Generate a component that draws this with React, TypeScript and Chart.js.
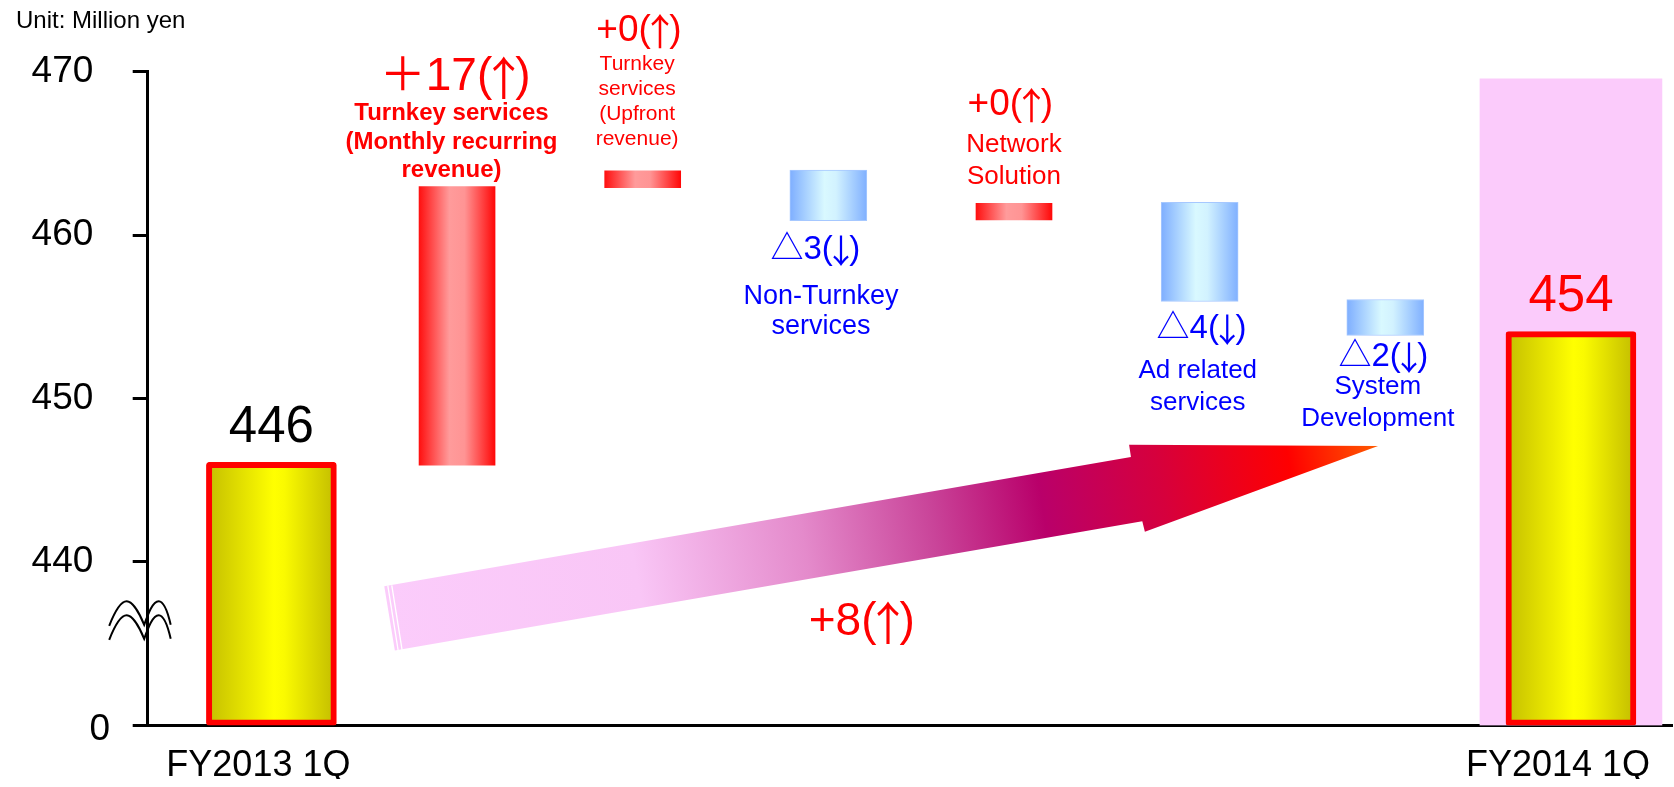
import React, { useEffect, useRef } from 'react';
import { Chart, registerables } from 'chart.js';

Chart.register(...registerables);

const FONT = '"Liberation Sans", Arial, "Noto Sans CJK JP", sans-serif';
const CJK = '"Noto Sans CJK JP", "Noto Sans CJK SC", sans-serif';

// ---------------- data ----------------
const categoryNames = [
  'FY2013 1Q',
  'Turnkey services (Monthly recurring revenue)',
  'Turnkey services (Upfront revenue)',
  'Non-Turnkey services',
  'Network Solution',
  'Ad related services',
  'System Development',
  'FY2014 1Q',
];
const axisLabels = ['FY2013 1Q', 'FY2014 1Q'];
const axisLabelPositions = [0, 7];

const totalPositions = [0, 7];
const totalValues = [446.1, 454.1];
const totalLabels = ['446', '454'];
const totalLabelColors = ['#000000', '#FF0000'];
const totalLabelY = [447.37, 455.35];

const increasePositions = [1, 2, 4];
const increaseFrom = [445.92, 462.91, 460.93];
const increaseTo = [462.97, 463.94, 461.94];

const decreasePositions = [3, 5, 6];
const decreaseFrom = [463.98, 462.0, 456.06];
const decreaseTo = [460.89, 455.94, 453.86];

const highlightPositions = [7];
const highlightTop = [469.56];

const yTickValues = [430, 440, 450, 460, 470];
const yTickLabels = ['0', '440', '450', '460', '470'];

const changeLabels = ['＋17(↑)', '+0(↑)', '△3(↓)', '+0(↑)', '△4(↓)', '△2(↓)'];
const changeLabelX = [0.99, 1.98, 2.93, 3.98, 5.01, 5.99];
const changeLabelY = [468.89, 471.85, 458.51, 467.32, 453.68, 452.01];
const changeNames = [
  ['Turnkey services', '(Monthly recurring', 'revenue)'],
  ['Turnkey', 'services', '(Upfront', 'revenue)'],
  ['Non-Turnkey', 'services'],
  ['Network', 'Solution'],
  ['Ad related', 'services'],
  ['System', 'Development'],
];
const changeNameX = [0.97, 1.97, 2.96, 4.0, 4.99, 5.96];
const changeNameY = [467.04, 470.1, 455.79, 465.08, 451.26, 450.25];
const changeIsUp = [true, true, false, true, false, false];

const netChangeLabel = '+8(↑)';
const netChangeX = [3.18];
const netChangeY = [435.54];
const netArrowX = [0.608, 4.63, 4.62, 5.961, 4.705, 4.691, 0.665];
const netArrowY = [438.51, 446.42, 447.17, 447.09, 441.85, 442.49, 434.58];
const axisBreakValue = [436.4];
const unitLabel = 'Unit: Million yen';

// ---------------- styles ----------------
const X_MIN = -0.6663;
const X_MAX = 7.549;
const Y_MIN = 430;
const Y_MAX = 470;
const RED = '#FF0000';
const BLUE = '#0000FF';
const changeLabelSizes = [46, 37, 33, 37, 33, 33];
const changeNameStyles = [
  { size: 24, weight: 'bold', lh: 28.7 },
  { size: 21, weight: 'normal', lh: 25 },
  { size: 27, weight: 'normal', lh: 30 },
  { size: 26, weight: 'normal', lh: 32 },
  { size: 26, weight: 'normal', lh: 31.6 },
  { size: 26, weight: 'normal', lh: 31.7 },
];
const YELLOW_STOPS: [number, string][] = [[0, '#C4BE00'], [0.52, '#FFFF00'], [0.6, '#FAFA00'], [1, '#C2BC00']];
const RED_STOPS: [number, string][] = [[0, '#FF1010'], [0.4, '#FF9B9B'], [0.6, '#FF9494'], [1, '#FF0808']];
const BLUE_STOPS: [number, string][] = [[0, '#7EAEFF'], [0.45, '#D9F9FF'], [0.6, '#D2F2FF'], [1, '#80B0FF']];
const ARROW_STOPS: [number, string][] = [
  [0, '#FBCCFB'], [0.25, '#F9C6F6'], [0.42, '#E48ACB'], [0.55, '#C94499'],
  [0.66, '#B9006A'], [0.78, '#D6003D'], [0.91, '#FF0000'], [1, '#FF5A00'],
];

function hGrad(c: any, width: number, stops: [number, string][]) {
  const chart = c.chart;
  const xs = chart.scales && chart.scales.x;
  if (!chart.chartArea || !xs || !c.raw) return stops[1][1];
  const cx = xs.getPixelForValue(c.raw.x);
  const g = chart.ctx.createLinearGradient(cx - width / 2, 0, cx + width / 2, 0);
  stops.forEach(([o, col]) => g.addColorStop(o, col));
  return g;
}

function text(ctx: CanvasRenderingContext2D, s: string, x: number, y: number, size: number, color: string, weight = 'normal', align: CanvasTextAlign = 'center', baseline: CanvasTextBaseline = 'alphabetic') {
  ctx.font = `${weight} ${size}px ${FONT}`;
  ctx.fillStyle = color;
  ctx.textAlign = align;
  ctx.textBaseline = baseline;
  ctx.fillText(s, x, y);
}

// text with tall CJK-style arrows, centred on cx
function richText(ctx: CanvasRenderingContext2D, s: string, cx: number, y: number, size: number, color: string) {
  const segs = Array.from(s).map((ch) => {
    const arrow = ch === '↑' || ch === '↓';
    return { ch, arrow, font: arrow ? `normal ${size}px ${CJK}` : `normal ${size}px ${FONT}`, w: 0 };
  });
  segs.forEach((sg) => {
    ctx.font = sg.font;
    sg.w = sg.arrow ? size * 0.5 : ctx.measureText(sg.ch).width;
  });
  const total = segs.reduce((a, sg) => a + sg.w, 0);
  let x = cx - total / 2;
  ctx.fillStyle = color;
  ctx.textBaseline = 'alphabetic';
  segs.forEach((sg) => {
    ctx.font = sg.font;
    if (sg.arrow) {
      ctx.textAlign = 'center';
      ctx.fillText(sg.ch, x + sg.w / 2, y + size * 0.12);
    } else {
      ctx.textAlign = 'left';
      ctx.fillText(sg.ch, x, y);
    }
    x += sg.w;
  });
}

const decorPlugin = {
  id: 'decor',
  afterDatasetsDraw(chart: any) {
    const { ctx, scales } = chart;
    const xs = scales.x, ys = scales.y;
    const pts = netArrowX.map((v, i) => ({ x: xs.getPixelForValue(v), y: ys.getPixelForValue(netArrowY[i]) }));
    ctx.save();
    const tail = { x: (pts[0].x + pts[6].x) / 2, y: (pts[0].y + pts[6].y) / 2 };
    const tip = pts[3];
    const g = ctx.createLinearGradient(tail.x, tail.y, tip.x, tip.y);
    ARROW_STOPS.forEach(([o, col]) => g.addColorStop(o, col));
    ctx.beginPath();
    ctx.moveTo(pts[0].x, pts[0].y);
    for (let i = 1; i < pts.length; i++) ctx.lineTo(pts[i].x, pts[i].y);
    ctx.closePath();
    ctx.fillStyle = g;
    ctx.fill();
    ctx.strokeStyle = '#FFFFFF';
    ctx.lineWidth = 1.3;
    [3.5, 7.5].forEach((d) => {
      ctx.beginPath();
      ctx.moveTo(pts[0].x + d, pts[0].y - 1);
      ctx.lineTo(pts[6].x + d, pts[6].y + 1);
      ctx.stroke();
    });
    ctx.restore();
  },
  afterDraw(chart: any) {
    const { ctx, scales, chartArea } = chart;
    const xs = scales.x, ys = scales.y;
    ctx.save();
    text(ctx, unitLabel, 16, 28, 24, '#000000', 'normal', 'left');
    text(ctx, yTickLabels[0], chartArea.left - 37.7, ys.getPixelForValue(yTickValues[0]) + 4, 37, '#000000', 'normal', 'right', 'middle');
    // axis break mark
    const bx = chartArea.left;
    const by = ys.getPixelForValue(axisBreakValue[0]);
    ctx.strokeStyle = '#000000';
    ctx.lineWidth = 2;
    [-7, 7].forEach((off) => {
      const y0 = by + off;
      ctx.beginPath();
      ctx.moveTo(bx - 38.5, y0 + 12);
      ctx.bezierCurveTo(bx - 33, y0 - 2, bx - 27, y0 - 12.5, bx - 21, y0 - 12.5);
      ctx.bezierCurveTo(bx - 15, y0 - 12.5, bx - 8, y0 + 0, bx - 3.5, y0 + 11);
      ctx.bezierCurveTo(bx + 0.5, y0 + 0, bx + 5, y0 - 12.5, bx + 11, y0 - 12.5);
      ctx.bezierCurveTo(bx + 16, y0 - 12.5, bx + 20, y0 - 2, bx + 23, y0 + 11);
      ctx.stroke();
    });
    totalPositions.forEach((p, i) => {
      text(ctx, totalLabels[i], xs.getPixelForValue(p), ys.getPixelForValue(totalLabelY[i]), 51, totalLabelColors[i]);
    });
    changeLabels.forEach((s, i) => {
      const col = changeIsUp[i] ? RED : BLUE;
      richText(ctx, s, xs.getPixelForValue(changeLabelX[i]), ys.getPixelForValue(changeLabelY[i]), changeLabelSizes[i], col);
      const st = changeNameStyles[i];
      const nx = xs.getPixelForValue(changeNameX[i]);
      const ny = ys.getPixelForValue(changeNameY[i]);
      changeNames[i].forEach((line, j) => {
        text(ctx, line, nx, ny + j * st.lh, st.size, col, st.weight);
      });
    });
    richText(ctx, netChangeLabel, xs.getPixelForValue(netChangeX[0]), ys.getPixelForValue(netChangeY[0]), 46, RED);
    ctx.restore();
  },
};

export default function App() {
  const ref = useRef<HTMLCanvasElement | null>(null);
  useEffect(() => {
    if (!ref.current) return;
    Chart.defaults.font.family = FONT;
    const chart = new Chart(ref.current, {
      type: 'bar',
      data: {
        labels: categoryNames,
        datasets: [
          {
            label: 'highlight',
            data: highlightPositions.map((p, i) => ({ x: p, y: [Y_MIN, highlightTop[i]] })) as any,
            backgroundColor: '#FBCBFB',
            barThickness: 182,
            grouped: false,
            order: 5,
          },
          {
            label: 'total',
            data: totalPositions.map((p, i) => ({ x: p, y: [Y_MIN, totalValues[i]] })) as any,
            backgroundColor: (c: any) => hGrad(c, 130, YELLOW_STOPS),
            borderColor: RED,
            borderWidth: 6,
            borderSkipped: false,
            borderRadius: 3,
            barThickness: 130,
            grouped: false,
            order: 1,
          },
          {
            label: 'increase',
            data: increasePositions.map((p, i) => ({ x: p, y: [increaseFrom[i], increaseTo[i]] })) as any,
            backgroundColor: (c: any) => hGrad(c, 76, RED_STOPS),
            borderWidth: 0,
            barThickness: 76,
            grouped: false,
            order: 1,
          },
          {
            label: 'decrease',
            data: decreasePositions.map((p, i) => ({ x: p, y: [decreaseTo[i], decreaseFrom[i]] })) as any,
            backgroundColor: (c: any) => hGrad(c, 77, BLUE_STOPS),
            borderColor: '#A6C8FF',
            borderWidth: 1,
            borderSkipped: false,
            barThickness: 77,
            grouped: false,
            order: 1,
          },
        ],
      },
      options: {
        animation: false,
        responsive: false,
        events: [],
        layout: { padding: { top: 71.7, left: 0, right: 0, bottom: 0 } },
        plugins: { legend: { display: false }, tooltip: { enabled: false } },
        scales: {
          x: {
            type: 'linear',
            min: X_MIN,
            max: X_MAX,
            offset: false,
            grid: { display: false },
            border: { display: true, color: '#000000', width: 3 },
            afterBuildTicks: (s: any) => { s.ticks = axisLabelPositions.map((v) => ({ value: v })); },
            afterFit: (s: any) => { s.height = 53.7; },
            ticks: {
              autoSkip: false,
              maxRotation: 0,
              padding: 11,
              labelOffset: -13,
              color: '#000000',
              font: { size: 36, family: FONT },
              callback: (v: any) => {
                const i = axisLabelPositions.indexOf(Number(v));
                return i >= 0 ? axisLabels[i] : '';
              },
            },
          },
          y: {
            type: 'linear',
            min: Y_MIN,
            max: Y_MAX,
            grid: { display: true, drawOnChartArea: false, drawTicks: true, tickLength: 15, color: '#000000', lineWidth: 3 },
            border: { display: true, color: '#000000', width: 3 },
            afterBuildTicks: (s: any) => { s.ticks = yTickValues.map((v) => ({ value: v })); },
            afterFit: (s: any) => { s.width = 147.7; },
            ticks: {
              padding: 39.4,
              color: '#000000',
              font: { size: 37, family: FONT },
              callback: (v: any) => {
                const i = yTickValues.indexOf(Number(v));
                return i > 0 ? yTickLabels[i] : '';
              },
            },
          },
        },
      } as any,
      plugins: [decorPlugin],
    });
    return () => chart.destroy();
  }, []);
  return (
    <div style={{ position: 'absolute', left: 0, top: 0, width: 1674, height: 787, background: '#FFFFFF' }}>
      <canvas ref={ref} width={1674} height={787} style={{ display: 'block' }} />
    </div>
  );
}
